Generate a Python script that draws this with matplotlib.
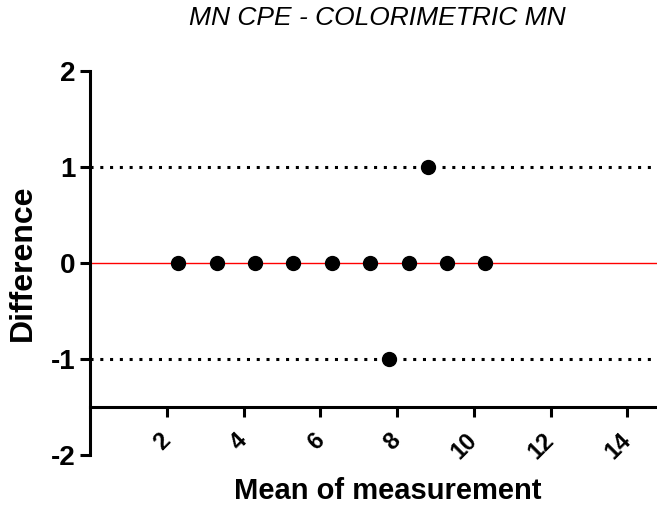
import numpy as np
import matplotlib.pyplot as plt

plt.rcParams['font.family'] = ['Liberation Sans', 'DejaVu Sans']
plt.rcParams['axes.unicode_minus'] = False

# data
mean_vals = [2.3, 3.3, 4.3, 5.3, 6.3, 7.3, 8.3, 9.3, 10.3, 8.8, 7.8]
diff_vals = [0, 0, 0, 0, 0, 0, 0, 0, 0, 1, -1]
bias = 0.0
upper_loa = 1.0
lower_loa = -1.0
x_ticks = [2, 4, 6, 8, 10, 12, 14]
y_ticks = [-2, -1, 0, 1, 2]

fig = plt.figure(figsize=(6.57, 5.08), dpi=100)
ax = fig.add_axes([0.137, 0.104, 0.863, 0.756])

ax.axhline(bias, color='red', lw=1.0, zorder=1)
ax.axhline(upper_loa, color='black', lw=2.2, ls=(0, (1, 2.2)), zorder=1)
ax.axhline(lower_loa, color='black', lw=2.2, ls=(0, (1, 2.2)), zorder=1)
ax.plot(mean_vals, diff_vals, 'o', color='black', ms=10, zorder=3, clip_on=False)

ax.set_xlim(0, 14.77)
ax.set_ylim(-2, 2)
ax.set_xticks(x_ticks)
ax.set_yticks(y_ticks)

ax.spines['top'].set_visible(False)
ax.spines['right'].set_visible(False)
ax.spines['bottom'].set_position(('data', -1.5))
ax.spines['left'].set_linewidth(2.2)
ax.spines['bottom'].set_linewidth(2.2)
ax.tick_params(direction='out', length=7.5, width=2.2)
ax.tick_params(axis='y', labelsize=20, pad=3)
ax.tick_params(axis='x', labelsize=17, pad=14)

for lab in ax.get_xticklabels():
    lab.set_rotation(45)
    lab.set_fontweight('bold')
    lab.set_ha('right')
    lab.set_va('center')
    lab.set_rotation_mode('anchor')
for lab in ax.get_yticklabels():
    lab.set_fontweight('bold')

ax.set_xlabel('Mean of measurement', fontsize=21, fontweight='bold', va='center')
ax.xaxis.set_label_coords(0.525, -0.094)
ax.set_ylabel('Difference', fontsize=23, fontweight='bold', va='center')
ax.yaxis.set_label_coords(-0.118, 0.5)
fig.text(377 / 657, 1 - 25 / 508, 'MN CPE - COLORIMETRIC MN', fontsize=19,
         fontstyle='italic', ha='center', va='baseline')

fig.savefig('out.png', dpi=100)
